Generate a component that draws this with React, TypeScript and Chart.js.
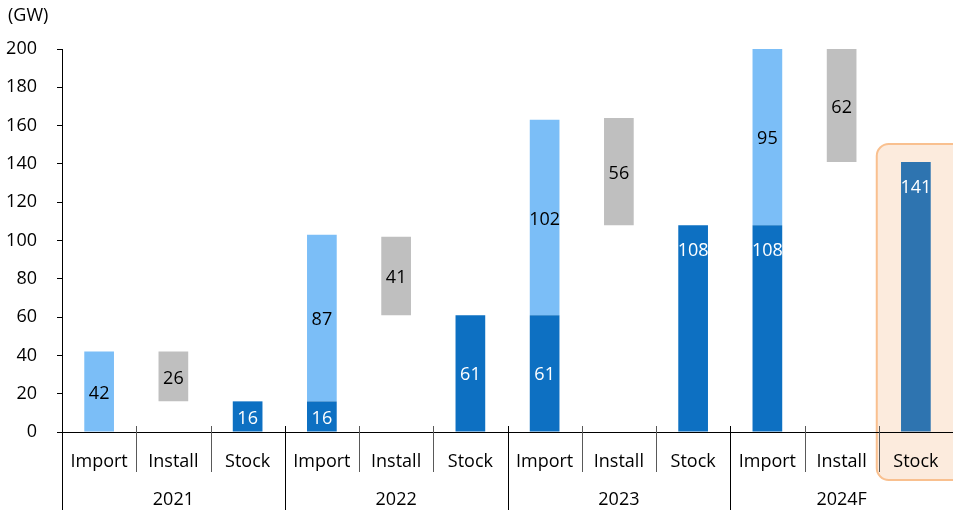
import React, { useEffect, useRef } from "react";
import { Chart, registerables } from "chart.js";

Chart.register(...registerables);

const years = ["2021", "2022", "2023", "2024F"];
const subLabels = ["Import", "Install", "Stock"];
const stockStart = [0, 16, 61, 108];
const importNew = [42, 87, 102, 95];
const installed = [26, 41, 56, 62];
const stockEnd = [16, 61, 108, 141];
const yTicks = [0, 20, 40, 60, 80, 100, 120, 140, 160, 180, 200];
const unitLabel = "(GW)";

const FONT = "'Open Sans', 'Noto Sans', sans-serif";
const FSIZE = 18;
const DARK = "#0D70C2";
const DARK_LAST = "#2E74B0";
const LIGHT = "#7BBEF7";
const GRAY = "#BFBFBF";

const labels: string[] = [];
years.forEach(() => subLabels.forEach((s) => labels.push(s)));

const stockData: (number | null)[] = [];
const installBaseData: (number | null)[] = [];
const importData: (number | null)[] = [];
const installData: (number | null)[] = [];
years.forEach((_, i) => {
  stockData.push(stockStart[i], null, stockEnd[i]);
  installBaseData.push(null, stockEnd[i], null);
  importData.push(importNew[i], null, null);
  installData.push(null, installed[i], null);
});

const stockColors = labels.map((_, i) => (i === labels.length - 1 ? DARK_LAST : DARK));

const highlightPlugin = {
  id: "highlight",
  beforeDraw(chart: any) {
    const { ctx, chartArea } = chart;
    const x = chart.scales.x;
    const y = chart.scales.y;
    const idx = labels.length - 1;
    const cx = x.getPixelForValue(idx);
    const half = (x.getPixelForValue(1) - x.getPixelForValue(0)) / 2;
    const left = cx - half - 2;
    const right = cx + half + 30;
    const top = y.getPixelForValue(stockEnd[stockEnd.length - 1]) - 18;
    const bottom = chartArea.bottom + 48;
    const r = 12;
    ctx.save();
    ctx.beginPath();
    ctx.moveTo(left + r, top);
    ctx.lineTo(right - r, top);
    ctx.arcTo(right, top, right, top + r, r);
    ctx.lineTo(right, bottom - r);
    ctx.arcTo(right, bottom, right - r, bottom, r);
    ctx.lineTo(left + r, bottom);
    ctx.arcTo(left, bottom, left, bottom - r, r);
    ctx.lineTo(left, top + r);
    ctx.arcTo(left, top, left + r, top, r);
    ctx.closePath();
    ctx.fillStyle = "#FCEBDD";
    ctx.fill();
    ctx.lineWidth = 2;
    ctx.strokeStyle = "#F9C08F";
    ctx.stroke();
    ctx.restore();
  },
};

const labelPlugin = {
  id: "barLabels",
  afterDatasetsDraw(chart: any) {
    const { ctx, chartArea } = chart;
    ctx.save();
    ctx.font = `${FSIZE}px ${FONT}`;
    ctx.textAlign = "center";
    ctx.textBaseline = "middle";
    chart.data.datasets.forEach((ds: any, di: number) => {
      if (!ds.labelColor) return;
      const meta = chart.getDatasetMeta(di);
      meta.data.forEach((el: any, j: number) => {
        const v = ds.data[j];
        if (v === null || v === undefined || v === 0) return;
        const top = Math.max(el.y, chartArea.top);
        const bottom = el.base;
        let ty = (top + bottom) / 2 + 2;
        if (ds.labelAtEnd && bottom - top > 150) ty = top + 26;
        ctx.fillStyle = ds.labelColor;
        ctx.fillText(String(v), el.x, ty);
      });
    });
    ctx.restore();
  },
};

const axisPlugin = {
  id: "groupAxis",
  afterDraw(chart: any) {
    const { ctx, chartArea } = chart;
    const x = chart.scales.x;
    const step = x.getPixelForValue(1) - x.getPixelForValue(0);
    ctx.save();
    for (let i = 1; i < labels.length; i++) {
      const bx = Math.round(x.getPixelForValue(i) - step / 2) + 0.5;
      const isYear = i % subLabels.length === 0;
      ctx.beginPath();
      ctx.moveTo(bx, chartArea.bottom - 6);
      ctx.lineTo(bx, isYear ? chart.height : chartArea.bottom + 40);
      ctx.strokeStyle = isYear ? "#000000" : "#595959";
      ctx.lineWidth = 1;
      ctx.stroke();
    }
    ctx.beginPath();
    ctx.moveTo(chartArea.left + 0.5, chartArea.bottom);
    ctx.lineTo(chartArea.left + 0.5, chart.height);
    ctx.strokeStyle = "#000000";
    ctx.stroke();
    ctx.font = `${FSIZE}px ${FONT}`;
    ctx.fillStyle = "#000000";
    ctx.textAlign = "center";
    ctx.textBaseline = "middle";
    years.forEach((yr, i) => {
      const c = x.getPixelForValue(i * subLabels.length + 1);
      ctx.fillText(yr, c, chartArea.bottom + 68);
    });
    ctx.textAlign = "left";
    ctx.fillText(unitLabel, 8, 16);
    ctx.restore();
  },
};

export default function App() {
  const ref = useRef<HTMLCanvasElement | null>(null);
  useEffect(() => {
    if (!ref.current) return;
    const common = { barPercentage: 0.4, categoryPercentage: 1 };
    const chart = new Chart(ref.current, {
      type: "bar",
      data: {
        labels,
        datasets: [
          {
            label: "Stock",
            data: stockData,
            backgroundColor: stockColors,
            ...common,
            labelColor: "#FFFFFF",
            labelAtEnd: true,
          } as any,
          {
            label: "Install base",
            data: installBaseData,
            backgroundColor: "rgba(0,0,0,0)",
            ...common,
          } as any,
          {
            label: "Import",
            data: importData,
            backgroundColor: LIGHT,
            ...common,
            labelColor: "#000000",
          } as any,
          {
            label: "Install",
            data: installData,
            backgroundColor: GRAY,
            ...common,
            labelColor: "#000000",
          } as any,
        ],
      },
      options: {
        responsive: false,
        animation: false,
        devicePixelRatio: 1,
        layout: { padding: { top: 49, left: 0, right: 0, bottom: 0 } },
        plugins: {
          legend: { display: false },
          tooltip: { enabled: false },
        },
        scales: {
          x: {
            stacked: true,
            offset: true,
            grid: { display: false, drawOnChartArea: false, drawTicks: false },
            border: { display: true, color: "#000000", width: 1 },
            ticks: {
              color: "#000000",
              font: { family: FONT, size: FSIZE },
              padding: 19,
              maxRotation: 0,
              autoSkip: false,
            },
            afterFit: (s: any) => {
              s.height = 78;
              s.paddingLeft = 0;
              s.paddingRight = 0;
            },
          },
          y: {
            stacked: true,
            min: 0,
            max: 200,
            afterBuildTicks: (s: any) => {
              s.ticks = yTicks.map((v) => ({ value: v }));
            },
            grid: {
              drawOnChartArea: false,
              drawTicks: true,
              tickLength: 5,
              color: "#000000",
            },
            border: { display: true, color: "#000000", width: 1 },
            ticks: {
              color: "#000000",
              font: { family: FONT, size: FSIZE },
              padding: 20,
            },
            afterFit: (s: any) => {
              s.width = 62;
            },
          },
        },
      } as any,
      plugins: [highlightPlugin, labelPlugin, axisPlugin],
    });
    return () => chart.destroy();
  }, []);
  return (
    <div style={{ position: "absolute", left: 0, top: 0, width: 953, height: 510 }}>
      <canvas ref={ref} width={953} height={510} style={{ display: "block" }} />
    </div>
  );
}
